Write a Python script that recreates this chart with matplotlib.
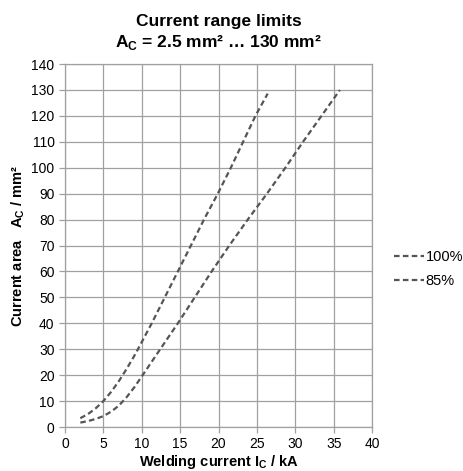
import matplotlib
matplotlib.use("Agg")
import matplotlib.pyplot as plt

plt.rcParams['font.family'] = ['Liberation Sans', 'DejaVu Sans']

# --- Data ---
i100 = [2, 3, 4, 5, 6, 7, 8, 9, 9.5, 11.3, 13.0, 14.7, 16.4, 18.1, 19.9, 21.6, 23.2, 24.8, 26.4]
a100 = [3.4, 5, 7.2, 10, 13.5, 17.6, 22.3, 27.3, 30, 40, 50, 60, 70, 80, 90, 100, 110, 120, 128.6]

i85 = [2, 3, 4, 5, 6, 7, 8, 9, 10, 12.4, 14.7, 16.9, 19.1, 21.4, 23.8, 26.3, 28.7, 31.0, 33.4, 35.8]
a85 = [1.7, 2.3, 3.1, 4.2, 5.9, 8.2, 11.4, 15.2, 19.5, 30, 40, 50, 60, 70, 80, 90, 100, 110, 120, 130]

xticks = list(range(0, 41, 5))
yticks = list(range(0, 141, 10))

# --- Plot ---
fig = plt.figure(figsize=(4.64, 4.71), dpi=100)
ax = fig.add_axes([0.140, 0.0934, 0.662, 0.7706])

line_col = '#555555'
grid_col = '#a0a0a0'
ax.plot(i100, a100, color=line_col, linewidth=1.6, linestyle=(0, (2.5, 1.5)), label='100%')
ax.plot(i85, a85, color=line_col, linewidth=1.6, linestyle=(0, (2.5, 1.5)), label='85%')

ax.set_xlim(0, 40)
ax.set_ylim(0, 140)
ax.set_xticks(xticks)
ax.set_yticks(yticks)
ax.grid(True, color=grid_col, linewidth=0.9)
ax.set_axisbelow(True)
for s in ax.spines.values():
    s.set_color(grid_col)
    s.set_linewidth(0.9)
ax.tick_params(axis='both', colors=grid_col, labelcolor='black', labelsize=10, length=4, width=0.9)

ax.set_title("Current range limits\nA$_\\mathregular{C}$ = 2.5 mm² … 130 mm²",
             fontsize=12.5, fontweight='bold', pad=12, linespacing=1.3)
ax.set_xlabel("Welding current I$_\\mathregular{C}$ / kA", fontsize=10.5, fontweight='bold', labelpad=1)
ax.set_ylabel("Current area   A$_\\mathregular{C}$ / mm²", fontsize=10.5, fontweight='bold', labelpad=3)

fig.legend(loc='center left', bbox_to_anchor=(0.849, 0.429), frameon=False, fontsize=10.5,
           borderpad=0, borderaxespad=0, handlelength=2.05, handletextpad=0.14, labelspacing=0.65)

fig.savefig("out.png", dpi=100)
